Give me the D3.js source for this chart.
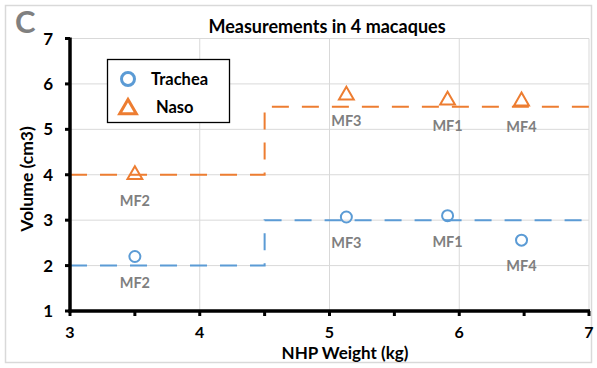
<!DOCTYPE html>
<html>
<head>
<meta charset="utf-8">
<script src="https://cdn.jsdelivr.net/npm/d3@7"></script>
<style>
  html, body { margin: 0; padding: 0; background: #fff; }
  svg { display: block; font-family: Lato, "Open Sans", sans-serif; }
</style>
</head>
<body>
<svg id="chart" width="597" height="368"></svg>
<script>
// Animal IDs and their body weights (kg)
const animals = ["MF2", "MF3", "MF1", "MF4"];
const weights = [3.5, 5.13, 5.91, 6.48];
// Measured volumes (cm3)
const tracheaVolumes = [2.2, 3.07, 3.1, 2.56];
const nasoVolumes = [4.0, 5.75, 5.64, 5.62];
// Step references: value in each weight band
const stepBreaks = [3, 4.5, 7];
const tracheaSteps = [2, 3];
const nasoSteps = [4, 5.5];
const xTicks = [3, 4, 5, 6, 7];
const xMinorTicks = [3.5, 4.5, 5.5, 6.5];
const yTicks = [1, 2, 3, 4, 5, 6, 7];

const blue = "#5B9BD5", orange = "#ED7D31", grey = "#7F7F7F";
const svg = d3.select("#chart");

// outer frame
svg.append("rect").attr("x", 5.5).attr("y", 5.5).attr("width", 586).attr("height", 357)
  .attr("fill", "none").attr("stroke", "#d9d9d9").attr("stroke-width", 1.5);

const x = d3.scaleLinear().domain([3, 7]).range([70, 589]);
const y = d3.scaleLinear().domain([1, 7]).range([311, 38.5]);

// gridlines
svg.append("g").selectAll("line").data(xTicks.slice(1)).join("line")
  .attr("x1", d => x(d)).attr("x2", d => x(d)).attr("y1", y(7)).attr("y2", y(1))
  .attr("stroke", "#d9d9d9").attr("stroke-width", 1);
svg.append("g").selectAll("line").data(yTicks.slice(1)).join("line")
  .attr("x1", x(3)).attr("x2", x(7)).attr("y1", d => y(d)).attr("y2", d => y(d))
  .attr("stroke", "#d9d9d9").attr("stroke-width", 1);

// step reference lines
function stepPath(vals) {
  const pts = [];
  vals.forEach((v, i) => { pts.push([stepBreaks[i], v]); pts.push([stepBreaks[i + 1], v]); });
  return d3.line().x(d => x(d[0])).y(d => y(d[1]))(pts);
}
svg.append("path").attr("d", stepPath(tracheaSteps)).attr("fill", "none")
  .attr("stroke", blue).attr("stroke-width", 2).attr("stroke-dasharray", "17,13");
svg.append("path").attr("d", stepPath(nasoSteps)).attr("fill", "none")
  .attr("stroke", orange).attr("stroke-width", 2).attr("stroke-dasharray", "17,13");

// axes
const xAxis = svg.append("g").attr("transform", `translate(0,${y(1)})`);
xAxis.append("line").attr("x1", x(3) - 1.5).attr("x2", x(7) + 1).attr("stroke", "#000").attr("stroke-width", 3.5);
xAxis.selectAll("line.t").data(xTicks.concat(xMinorTicks)).join("line")
  .attr("x1", d => x(d)).attr("x2", d => x(d)).attr("y1", 0).attr("y2", 5)
  .attr("stroke", "#000").attr("stroke-width", 3);
xAxis.selectAll("text").data(xTicks).join("text")
  .attr("x", d => x(d)).attr("y", 27).attr("text-anchor", "middle")
  .attr("font-size", 16).attr("font-weight", "bold").text(d => d);

const yAxis = svg.append("g").attr("transform", `translate(${x(3)},0)`);
yAxis.append("line").attr("y1", y(7) - 1).attr("y2", y(1) + 1.5).attr("stroke", "#000").attr("stroke-width", 3.5);
yAxis.selectAll("line.t").data(yTicks).join("line")
  .attr("y1", d => y(d)).attr("y2", d => y(d)).attr("x1", -5).attr("x2", 0)
  .attr("stroke", "#000").attr("stroke-width", 3);
yAxis.selectAll("text").data(yTicks).join("text")
  .attr("x", -17).attr("y", d => y(d) + 6).attr("text-anchor", "end")
  .attr("font-size", 17).attr("font-weight", "bold").text(d => d);

// axis titles
svg.append("text").attr("x", 345).attr("y", 359).attr("text-anchor", "middle")
  .attr("font-size", 17).attr("font-weight", "bold").text("NHP Weight (kg)");
svg.append("text").attr("transform", "translate(33,179) rotate(-90)").attr("text-anchor", "middle")
  .attr("font-size", 17.5).attr("font-weight", "bold").text("Volume (cm3)");

// title and panel letter
svg.append("text").attr("x", 327).attr("y", 33).attr("text-anchor", "middle")
  .attr("font-size", 18).attr("font-weight", "bold").text("Measurements in 4 macaques");
svg.append("text").attr("x", 15).attr("y", 33).attr("font-size", 31).attr("font-weight", "bold")
  .attr("fill", "#808080").text("C");

// markers
const tri = d3.symbol().type(d3.symbolTriangle).size(95);
svg.append("g").selectAll("circle").data(weights).join("circle")
  .attr("cx", d => x(d)).attr("cy", (d, i) => y(tracheaVolumes[i])).attr("r", 5.5)
  .attr("fill", "none").attr("stroke", blue).attr("stroke-width", 2);
svg.append("g").selectAll("path").data(weights).join("path")
  .attr("d", tri).attr("transform", (d, i) => `translate(${x(d)},${y(nasoVolumes[i])})`)
  .attr("fill", "none").attr("stroke", orange).attr("stroke-width", 2);

// animal labels
svg.append("g").selectAll("text").data(animals).join("text")
  .attr("x", (d, i) => x(weights[i])).attr("y", (d, i) => y(tracheaVolumes[i]) + 31)
  .attr("text-anchor", "middle").attr("font-size", 14.5).attr("font-weight", "bold")
  .attr("fill", grey).text(d => d);
svg.append("g").selectAll("text").data(animals).join("text")
  .attr("x", (d, i) => x(weights[i])).attr("y", (d, i) => y(nasoVolumes[i]) + 31)
  .attr("text-anchor", "middle").attr("font-size", 14.5).attr("font-weight", "bold")
  .attr("fill", grey).text(d => d);

// legend
const lg = svg.append("g");
lg.append("rect").attr("x", 107.5).attr("y", 59.5).attr("width", 122).attr("height", 63)
  .attr("fill", "#fff").attr("stroke", "#000").attr("stroke-width", 1.3);
lg.append("circle").attr("cx", 128).attr("cy", 79).attr("r", 6.5)
  .attr("fill", "none").attr("stroke", blue).attr("stroke-width", 3);
lg.append("path").attr("d", d3.symbol().type(d3.symbolTriangle).size(120))
  .attr("transform", "translate(128,109)")
  .attr("fill", "none").attr("stroke", orange).attr("stroke-width", 3);
lg.append("text").attr("x", 151).attr("y", 85).attr("font-size", 16.5).attr("font-weight", "bold").text("Trachea");
lg.append("text").attr("x", 156).attr("y", 113).attr("font-size", 16.5).attr("font-weight", "bold").text("Naso");
</script>
</body>
</html>
